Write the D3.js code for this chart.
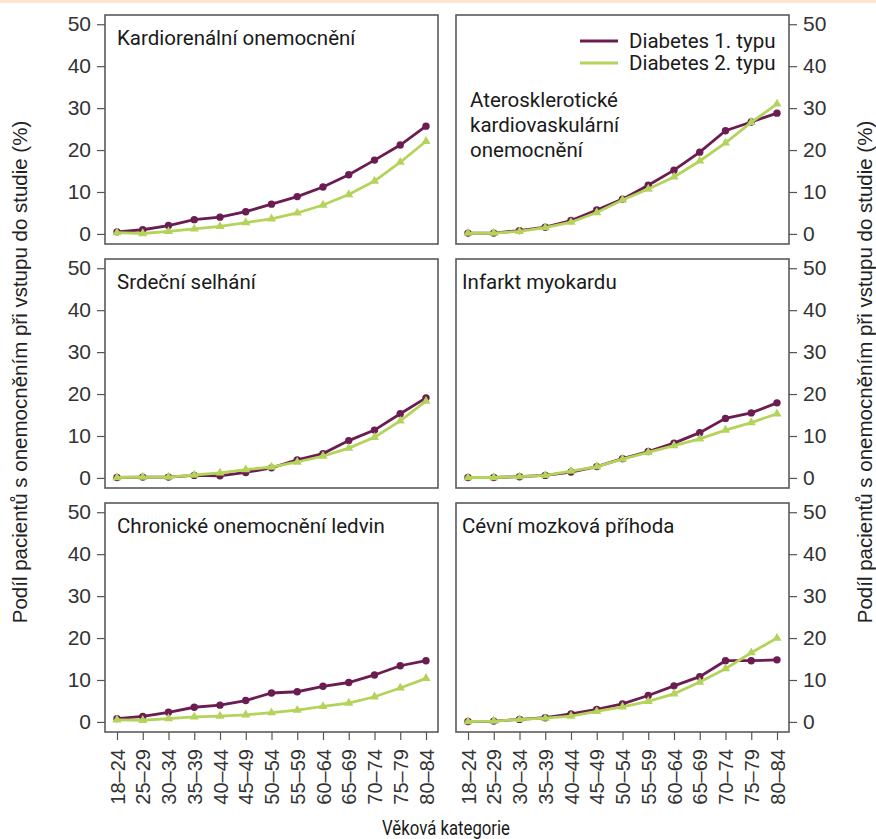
<!DOCTYPE html>
<html>
<head>
<meta charset="utf-8">
<script src="https://cdn.jsdelivr.net/npm/d3@7"></script>
<style>
  body { margin: 0; background: #fff; }
  svg { display: block; }
</style>
</head>
<body>
<div id="graphic"></div>
<script>
'use strict';

// age groups on the x axis
const ages = ['18–24', '25–29', '30–34', '35–39', '40–44', '45–49', '50–54', '55–59', '60–64', '65–69', '70–74', '75–79', '80–84'];
const yTicks = [0, 10, 20, 30, 40, 50];
const seriesNames = ['Diabetes 1. typu', 'Diabetes 2. typu'];

// share of patients (%) per age group, type 1 / type 2
const kardiorenalT1 = [0.5, 1.0, 2.0, 3.4, 4.0, 5.3, 7.1, 8.9, 11.2, 14.1, 17.6, 21.2, 25.7];
const kardiorenalT2 = [0.3, 0.1, 0.6, 1.2, 1.8, 2.7, 3.6, 5.0, 6.9, 9.4, 12.6, 17.1, 22.1];
const aterosklT1 = [0.2, 0.2, 0.8, 1.6, 3.2, 5.7, 8.3, 11.6, 15.2, 19.5, 24.6, 26.7, 28.8];
const aterosklT2 = [0.2, 0.2, 0.6, 1.5, 2.8, 5.1, 8.1, 10.7, 13.6, 17.4, 21.7, 26.6, 31.0];
const srdecniT1 = [0.1, 0.2, 0.2, 0.6, 0.5, 1.3, 2.4, 4.3, 5.8, 8.9, 11.4, 15.3, 19.1];
const srdecniT2 = [0.1, 0.2, 0.2, 0.7, 1.2, 2.0, 2.6, 3.8, 5.2, 7.1, 9.7, 13.6, 18.3];
const infarktT1 = [0.1, 0.1, 0.3, 0.6, 1.4, 2.7, 4.6, 6.3, 8.3, 10.8, 14.2, 15.5, 17.9];
const infarktT2 = [0.1, 0.1, 0.3, 0.6, 1.6, 2.7, 4.5, 6.1, 7.7, 9.3, 11.4, 13.2, 15.3];
const ledvinyT1 = [0.8, 1.3, 2.3, 3.5, 4.0, 5.1, 6.9, 7.2, 8.5, 9.4, 11.2, 13.4, 14.6];
const ledvinyT2 = [0.5, 0.4, 0.8, 1.2, 1.4, 1.7, 2.2, 2.8, 3.7, 4.5, 6.0, 8.1, 10.4];
const cmpT1 = [0.1, 0.2, 0.6, 1.0, 1.9, 3.0, 4.3, 6.3, 8.6, 10.8, 14.6, 14.6, 14.8];
const cmpT2 = [0.1, 0.2, 0.6, 0.9, 1.4, 2.5, 3.6, 4.9, 6.7, 9.5, 12.7, 16.5, 20.0];

const titles = [
  ['Kardiorenální onemocnění'],
  ['Aterosklerotické', 'kardiovaskulární', 'onemocnění'],
  ['Srdeční selhání'],
  ['Infarkt myokardu'],
  ['Chronické onemocnění ledvin'],
  ['Cévní mozková příhoda']
];

const panels = [
  { t1: kardiorenalT1, t2: kardiorenalT2 },
  { t1: aterosklT1, t2: aterosklT2 },
  { t1: srdecniT1, t2: srdecniT2 },
  { t1: infarktT1, t2: infarktT2 },
  { t1: ledvinyT1, t2: ledvinyT2 },
  { t1: cmpT1, t2: cmpT2 }
];

const width = 876;
const height = 839;
const colT1 = '#6b1c51';
const colT2 = '#b4d35a';
const axisFont = '"Liberation Sans", Arial, sans-serif';
const titleFont = 'Roboto, "Noto Sans", sans-serif';

const panelW = 333;
const panelH = 229;
const colX = [105, 456];
const rowY = [15, 259, 503];

const x = d3.scalePoint().domain(ages).range([12, panelW - 12]);
const y = d3.scaleLinear().domain([-2.4, 52.2]).range([panelH, 0]);

const svg = d3.select('#graphic').append('svg').attr('width', width).attr('height', height);

svg.append('rect').attr('width', width).attr('height', 3).attr('fill', '#fbe4d0');

const line = d3
  .line()
  .x((d, i) => x(ages[i]))
  .y((d) => y(d));

const tri = d3.symbol().type(d3.symbolTriangle).size(36);

panels.forEach((p, k) => {
  const col = k % 2;
  const row = Math.floor(k / 2);
  const g = svg.append('g').attr('transform', `translate(${colX[col]},${rowY[row]})`);

  // y axis, left side for left column, right side for right column
  const yAxis = (col === 0 ? d3.axisLeft(y) : d3.axisRight(y)).tickValues(yTicks).tickSize(8).tickPadding(6);
  const ya = g
    .append('g')
    .attr('transform', col === 0 ? 'translate(0,0)' : `translate(${panelW},0)`)
    .call(yAxis);
  ya.select('.domain').remove();
  ya.selectAll('line').attr('stroke', '#555').attr('stroke-width', 1.2);
  ya.selectAll('text').attr('font-family', axisFont).attr('font-size', 21).attr('fill', '#333');

  // x axis only on bottom row
  if (row === 2) {
    const xa = g.append('g').attr('transform', `translate(0,${panelH})`).call(d3.axisBottom(x).tickSize(8).tickPadding(8));
    xa.select('.domain').remove();
    xa.selectAll('line').attr('stroke', '#555').attr('stroke-width', 1.2);
    xa.selectAll('text')
      .attr('font-family', axisFont)
      .attr('font-size', 20)
      .attr('fill', '#333')
      .attr('text-anchor', 'end')
      .attr('transform', 'rotate(-90)')
      .attr('x', -17)
      .attr('y', 0)
      .attr('dy', '0.35em');
  }

  // lines + markers; type 2 drawn on top
  g.append('path').datum(p.t1).attr('fill', 'none').attr('stroke', colT1).attr('stroke-width', 2.8).attr('d', line);
  g.append('g')
    .selectAll('circle')
    .data(p.t1)
    .join('circle')
    .attr('cx', (d, i) => x(ages[i]))
    .attr('cy', (d) => y(d))
    .attr('r', 3.7)
    .attr('fill', colT1);

  g.append('path').datum(p.t2).attr('fill', 'none').attr('stroke', colT2).attr('stroke-width', 2.8).attr('d', line);
  g.append('g')
    .selectAll('path')
    .data(p.t2)
    .join('path')
    .attr('d', tri)
    .attr('transform', (d, i) => `translate(${x(ages[i])},${y(d)})`)
    .attr('fill', colT2);

  // frame
  g.append('rect')
    .attr('width', panelW)
    .attr('height', panelH)
    .attr('fill', 'none')
    .attr('stroke', '#5a5a5a')
    .attr('stroke-width', 1.6);

  // panel title
  const tx = k === 1 ? 14 : col === 0 ? 12 : 6;
  const ty = k === 1 ? 92 : 30;
  g.append('text')
    .attr('font-family', titleFont)
    .attr('font-size', 20.5)
    .attr('fill', '#1a1a1a')
    .selectAll('tspan')
    .data(titles[k])
    .join('tspan')
    .attr('x', tx)
    .attr('y', (d, i) => ty + i * 25)
    .text((d) => d);

  // legend inside the second panel
  if (k === 1) {
    const lg = g.append('g').attr('transform', 'translate(124,26)');
    [colT1, colT2].forEach((c, i) => {
      lg.append('line')
        .attr('x1', 0)
        .attr('x2', 38)
        .attr('y1', i * 22)
        .attr('y2', i * 22)
        .attr('stroke', c)
        .attr('stroke-width', 2.8);
      lg.append('text')
        .attr('x', 49)
        .attr('y', i * 22)
        .attr('dy', '0.35em')
        .attr('font-family', titleFont)
        .attr('font-size', 20.5)
        .attr('fill', '#1a1a1a')
        .text(seriesNames[i]);
    });
  }
});

// axis titles
const yTitle = 'Podíl pacientů s onemocněním při vstupu do studie (%)';
[27, 872].forEach((bx) => {
  svg
    .append('text')
    .attr('transform', `translate(${bx},372) rotate(-90)`)
    .attr('text-anchor', 'middle')
    .attr('font-family', axisFont)
    .attr('font-size', 20.5)
    .attr('fill', '#222')
    .text(yTitle);
});

// condensed look of the original x title
svg
  .append('text')
  .attr('x', 446)
  .attr('y', 835)
  .attr('text-anchor', 'middle')
  .attr('font-family', titleFont)
  .attr('font-size', 20)
  .attr('textLength', 128)
  .attr('lengthAdjust', 'spacingAndGlyphs')
  .attr('fill', '#1a1a1a')
  .text('Věková kategorie');
</script>
</body>
</html>
